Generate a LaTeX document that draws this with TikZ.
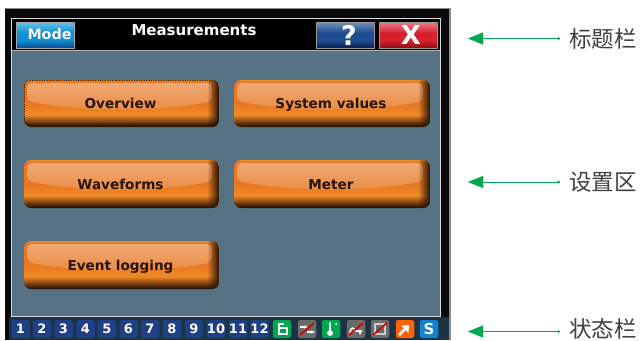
\documentclass[tikz,border=0pt]{standalone}
\usepackage{fontspec}
\setmainfont{DejaVu Sans}
\newfontfamily\cjk{Noto Sans CJK SC}
\usetikzlibrary{arrows.meta,fadings}
\definecolor{panel}{HTML}{557385}
\definecolor{bezel}{HTML}{0A0A0C}
\definecolor{statbg}{HTML}{1C3346}
\definecolor{numblue}{HTML}{1F3F86}
\definecolor{oranA}{HTML}{E9771F}
\definecolor{oranB}{HTML}{F08A28}
\definecolor{oranL}{HTML}{F0AA74}
\definecolor{oranM}{HTML}{EA8A42}
\definecolor{oranD}{HTML}{2A1506}
\definecolor{grn}{HTML}{00A650}
\definecolor{mA}{HTML}{5CC0EA}\definecolor{mB}{HTML}{0F8FD5}\definecolor{mC}{HTML}{0B4E8E}
\definecolor{hA}{HTML}{6A8DB8}\definecolor{hB}{HTML}{1E4C90}\definecolor{hC}{HTML}{0E2355}
\definecolor{xA}{HTML}{E87580}\definecolor{xB}{HTML}{D9202E}\definecolor{xC}{HTML}{8E1018}
\pgfdeclareverticalshading{btnbody}{100bp}{
  color(0bp)=(oranD);
  color(26bp)=(oranD);
  color(31bp)=(oranA!45!oranD);
  color(38bp)=(oranB);
  color(50bp)=(oranA);
  color(73bp)=(oranA);
  color(75bp)=(oranB);
  color(100bp)=(oranB)}
\pgfdeclareverticalshading{modeshade}{100bp}{
  color(0bp)=(mC);color(25bp)=(mC);color(40bp)=(mB);color(55bp)=(mB);color(75bp)=(mA);color(100bp)=(mA)}
\pgfdeclareverticalshading{helpshade}{100bp}{
  color(0bp)=(hC);color(25bp)=(hC);color(40bp)=(hB);color(55bp)=(hB);color(75bp)=(hA);color(100bp)=(hA)}
\pgfdeclareverticalshading{closeshade}{100bp}{
  color(0bp)=(xC);color(25bp)=(xC);color(40bp)=(xB);color(55bp)=(xB);color(75bp)=(xA);color(100bp)=(xA)}
\tikzset{
  x=1pt,y=-1pt,
  btntext/.style={font=\fontsize{13.6}{15}\selectfont\bfseries,text=black!85!orange,inner sep=0pt,anchor=base},
  cnlabel/.style={font=\cjk\fontsize{22.5}{24}\selectfont,text=black!75,inner sep=0pt,anchor=west},
  callout/.style={draw=grn,line width=.8pt,{Triangle[fill=grn,length=15pt,width=12pt]}-{Circle[fill=grn,length=2.6pt,width=2.6pt]},shorten >=0pt},
  sbox/.style={minimum width=18.5pt,minimum height=18pt,rounded corners=2.5pt,inner sep=0pt,text=white,font=\fontsize{13}{14}\selectfont\bfseries},
  numbox/.style={sbox,fill=numblue},
  graybox/.style={sbox,fill=black!58},
}
\newcommand{\orangebtn}[6]{% name x1 y1 x2 y2 text
  \begin{scope}
  \clip[rounded corners=7pt] (#2,#3) rectangle (#4,#5);
  \shade[shading=btnbody] (#2,#3) rectangle (#4,#5);
  \shade[rounded corners=5pt,top color=oranL,bottom color=oranM] (#2+3,#3+3)
     -- (#4-7,#3+3) -- (#4-7,#3+21) .. controls (#2/2+#4/2+40,#3+32) and (#2/2+#4/2-40,#3+32) .. (#2+3,#3+21) -- cycle;
  \fill[oranD,path fading=west] (#4-12,#3) rectangle (#4,#5);
  \end{scope}
  \node[btntext] (#1) at (#2/2+#4/2-1,#3/2+#5/2+5) {#6};
}
\begin{document}
\begin{tikzpicture}
\useasboundingbox (0,0) rectangle (644,340);
\fill[white] (0,0) rectangle (644,340);
% bezel
\fill[black!45] (5,8) rectangle (451,340);
\fill[bezel] (5,9) rectangle (449,340);
\fill[statbg] (9,317) rectangle (449,340);
\draw[white!85!black,line width=1pt] (11.5,18.5) rectangle (440.5,316.5);
\fill[black] (12,19) rectangle (440,50);
\fill[panel] (12,51) rectangle (440,316);
\draw[white!70!black,line width=1pt] (12,50.5) -- (440,50.5);
% title bar
\draw[black!35,line width=.8pt] (16.5,22.5) rectangle (74,48);
\shade[shading=modeshade] (17,23) rectangle (73.5,47.5);
\node[inner sep=0pt,text=white,font=\fontsize{14.3}{16}\selectfont\bfseries] (mode) at (49.5,34.5) {Mode};
\node[inner sep=0pt,text=white,font=\fontsize{15}{17}\selectfont\bfseries] (title) at (194,30.5) {Measurements};
\draw[black!40,line width=.8pt] (316.5,22.5) rectangle (374,48);
\shade[shading=helpshade] (317,23) rectangle (373.5,47.5);
\node[inner sep=0pt,text=white,font=\fontsize{27}{29}\selectfont\bfseries] (help) at (349,35) {?};
\draw[black!40,line width=.8pt] (379.5,22.5) rectangle (437,48);
\shade[shading=closeshade] (380,23) rectangle (436.5,47.5);
\node[inner sep=0pt,text=white,font=\fontsize{26}{28}\selectfont\bfseries] (close) at (411,35.5) {X};
% buttons
\orangebtn{overview}{24}{80}{219}{127}{Overview}
\draw[black,densely dotted,line width=.7pt,rounded corners=5pt] (24.5,80.5) rectangle (218,125);
\orangebtn{sysvals}{234}{80}{430}{127}{System values}
\orangebtn{waveforms}{24}{160}{219}{208}{Waveforms}
\orangebtn{meter}{234}{160}{430}{208}{Meter}
\orangebtn{eventlog}{24}{241}{219}{289}{Event logging}
% status bar
\foreach \n/\cx in {1/20.5,2/42,3/63.5,4/85.5,5/107,6/128.5,7/150,8/172,9/194,10/216,11/238,12/259.5}{
  \node[numbox] (st\n) at (\cx,329) {\n};
}
\node[sbox,fill=grn] (lock) at (282,329) {};
\draw[white,line width=1.9pt] (279,328) rectangle (287,334) (279,328) -- (279,324) -- (284,324);
\node[graybox] (arrowsbox) at (307,329) {};
\draw[white,line width=1.8pt,-{Stealth[length=4pt]}] (300,327) -- (308,327);
\draw[white,line width=1.8pt,-{Stealth[length=4pt]}] (307,332) -- (315,332);
\draw[red!85!black,line width=1.7pt] (300,335) -- (314,323);
\node[sbox,fill=grn] (therm) at (331,329) {};
\draw[white,line width=2.2pt,line cap=round] (330,323) -- (330,331);
\fill[white] (330,333) circle (2.9pt);
\fill[white] (336,324) circle (1pt);
\node[graybox] (wave) at (356,329) {};
\draw[white,line width=1.6pt] (350,333) .. controls (350,327) and (355,327) .. (355,331) -- (362,331) (360,331) -- (360,334);
\draw[red!85!black,line width=1.7pt] (349,335) -- (363,323);
\node[graybox] (disk) at (380,329) {};
\draw[white!80!black,line width=1.3pt] (375,324) rectangle (385,334);
\draw[red!85!black,line width=1.7pt] (373,335) -- (387,323);
\node[sbox,fill=orange!70!red!95!yellow] (up) at (405,329) {};
\draw[white,line width=2.8pt,-{Triangle[length=6pt,width=10pt]}] (399,335) -- (409,325);
\node[sbox,fill=cyan!65!blue,font=\fontsize{15}{16}\selectfont\bfseries] (sbtn) at (429,329) {S};
% callouts
\node[cnlabel] (l1) at (569,39) {标题栏};
\node[cnlabel] (l2) at (569,182) {设置区};
\node[cnlabel] (l3) at (569,329) {状态栏};
\coordinate (t1) at (468,38.5);
\coordinate (t2) at (468,182);
\coordinate (t3) at (468,331.5);
\coordinate (e1) at (560,38.5);
\coordinate (e2) at (560,182);
\coordinate (e3) at (560,331.5);
\draw[callout] (t1) -- (e1);
\draw[callout] (t2) -- (e2);
\draw[callout] (t3) -- (e3);
\end{tikzpicture}
\end{document}
